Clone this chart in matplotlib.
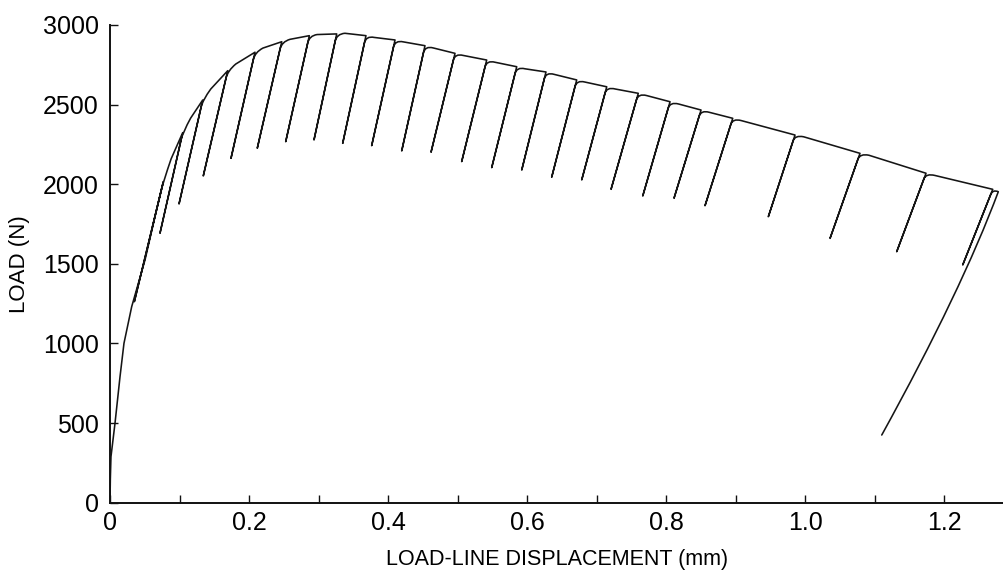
import matplotlib
matplotlib.use("Agg")
import matplotlib.pyplot as plt
from matplotlib.path import Path
from matplotlib.patches import PathPatch
from matplotlib.ticker import MultipleLocator, FixedLocator, FixedFormatter

plt.rcParams['font.family'] = ['Liberation Sans', 'DejaVu Sans']

# ---- data ----
# initial loading curve (mm, N)
init_x = [0.0, 0.0005, 0.0014, 0.0072, 0.0144, 0.0201, 0.0312, 0.0504, 0.0647]
init_load = [0, 150, 289, 499, 791, 1001, 1231, 1525, 1796]

# unloading cycles: apex (start of unloading), valley (end of unloading)
apex_x = [0.0767, 0.1046, 0.1334, 0.1694, 0.2086, 0.2471, 0.2868, 0.3262, 0.3683,
          0.4101, 0.4532, 0.4964, 0.5420, 0.5852, 0.6273, 0.6715, 0.7147, 0.7601,
          0.8058, 0.8504, 0.8960, 0.9856, 1.0791, 1.1741, 1.2701]
apex_load = [2016, 2324, 2529, 2713, 2829, 2895, 2933, 2944, 2933, 2906, 2870, 2822,
             2780, 2738, 2705, 2655, 2612, 2571, 2518, 2466, 2414, 2309, 2194, 2069, 1968]
valley_x = [0.0350, 0.0719, 0.0993, 0.1342, 0.1741, 0.2119, 0.2528, 0.2935, 0.3348,
            0.3765, 0.4197, 0.4619, 0.5060, 0.5492, 0.5924, 0.6355, 0.6787, 0.7209,
            0.7665, 0.8115, 0.8561, 0.9472, 1.0360, 1.1319, 1.2269]
valley_load = [1262, 1692, 1876, 2052, 2163, 2226, 2267, 2278, 2257, 2242, 2209, 2201,
               2142, 2104, 2089, 2044, 2027, 1968, 1926, 1912, 1865, 1796, 1660, 1576, 1493]
# point where the reloading curve rejoins the envelope
rejoin_x = [0.088, 0.116, 0.145, 0.181, 0.220, 0.259, 0.298, 0.338, 0.380, 0.422,
            0.465, 0.508, 0.554, 0.597, 0.639, 0.683, 0.727, 0.772, 0.818, 0.862,
            0.908, 0.998, 1.092, 1.187, 1.2781]
rejoin_load = [2160, 2415, 2598, 2755, 2855, 2910, 2940, 2948, 2922, 2894, 2856, 2809,
               2766, 2725, 2690, 2642, 2598, 2557, 2504, 2452, 2400, 2298, 2182, 2055, 1953]
# final unloading (bend point, end point)
final_bend_x, final_bend_load = 1.2255, 1336
final_end_x, final_end_load = 1.1104, 425

x_ticks = [0, 0.2, 0.4, 0.6, 0.8, 1.0, 1.2]
x_ticklabels = ["0", "0.2", "0.4", "0.6", "0.8", "1.0", "1.2"]
y_ticks = [0, 500, 1000, 1500, 2000, 2500, 3000]
y_ticklabels = ["0", "500", "1000", "1500", "2000", "2500", "3000"]

# ---- figure ----
fig = plt.figure(figsize=(10.04, 5.74), dpi=100)
ax = fig.add_axes([110 / 1004, 1 - 502.7 / 574, 894 / 1004, 477.7 / 574])

verts = []
codes = []
verts.append((init_x[0], init_load[0])); codes.append(Path.MOVETO)
for x, y in zip(init_x[1:], init_load[1:]):
    verts.append((x, y)); codes.append(Path.LINETO)
f = 0.07
for i in range(len(apex_x)):
    ax_, ay = apex_x[i], apex_load[i]
    vx, vy = valley_x[i], valley_load[i]
    verts.append((ax_, ay)); codes.append(Path.LINETO)
    verts.append((vx, vy)); codes.append(Path.LINETO)
    sx = ax_ + f * (vx - ax_)
    sy = ay + f * (vy - ay)
    verts.append((sx, sy)); codes.append(Path.LINETO)
    verts.append((ax_, ay)); codes.append(Path.CURVE3)
    verts.append((rejoin_x[i], rejoin_load[i])); codes.append(Path.CURVE3)
verts.append((final_bend_x, final_bend_load)); codes.append(Path.CURVE3)
verts.append((final_end_x, final_end_load)); codes.append(Path.CURVE3)

patch = PathPatch(Path(verts, codes), facecolor='none', edgecolor='#151515',
                  linewidth=1.15, joinstyle='round', capstyle='round')
ax.add_patch(patch)

ax.set_xlim(0, 1.2863)
ax.set_ylim(0, 3000)

for s in ['top', 'right']:
    ax.spines[s].set_visible(False)
for s in ['left', 'bottom']:
    ax.spines[s].set_linewidth(1.4)
    ax.spines[s].set_color('#111111')

ax.xaxis.set_major_locator(FixedLocator(x_ticks))
ax.xaxis.set_major_formatter(FixedFormatter(x_ticklabels))
ax.xaxis.set_minor_locator(MultipleLocator(0.1))
ax.yaxis.set_major_locator(FixedLocator(y_ticks))
ax.yaxis.set_major_formatter(FixedFormatter(y_ticklabels))

ax.tick_params(axis='both', which='both', direction='in', length=6, width=1.0,
               color='#111111')
ax.tick_params(axis='x', which='major', labelsize=18, pad=6)
ax.tick_params(axis='y', which='major', labelsize=18, pad=8)
ax.tick_params(axis='y', which='minor', left=False)

ax.set_xlabel("LOAD-LINE DISPLACEMENT (mm)", fontsize=15.5, labelpad=10)
ax.set_ylabel("LOAD (N)", fontsize=16, labelpad=9)

fig.savefig("out.png", dpi=100)
